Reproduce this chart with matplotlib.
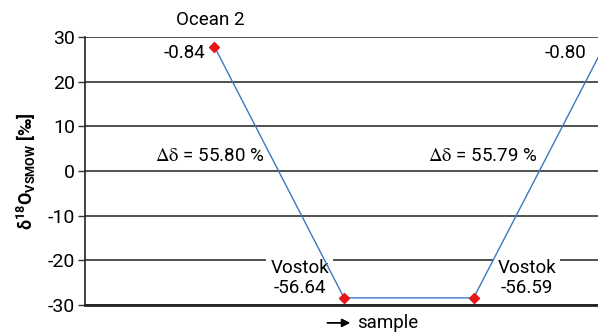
import matplotlib
matplotlib.use("Agg")
import matplotlib.pyplot as plt

plt.rcParams['font.family'] = ['Roboto', 'DejaVu Sans']
plt.rcParams['mathtext.fontset'] = 'custom'
plt.rcParams['mathtext.rm'] = 'Roboto'
plt.rcParams['mathtext.bf'] = 'Roboto:bold'

# data
sample_pos = [1, 2, 3, 4]
delta18o = [27.8, -28.4, -28.4, 27.6]
yticks = [-30, -20, -10, 0, 10, 20, 30]

fig = plt.figure(figsize=(5.98, 3.33), dpi=100)
ax = fig.add_axes([0.142, 0.084, 0.858, 0.805])

for t in yticks:
    ax.axhline(t, color='#333333', lw=1.2, zorder=1)

ax.plot(sample_pos, delta18o, color='#3f77c4', lw=1.0, zorder=3,
        marker='D', markersize=5, markerfacecolor='#e8161b', markeredgecolor='#e8161b')

ax.set_xlim(0, 3.96)
ax.set_ylim(-30, 30)
ax.set_yticks(yticks)
ax.set_yticklabels([str(t) for t in yticks], fontsize=14)
ax.set_xticks([])
ax.tick_params(axis='y', direction='out', length=5, width=1, color='#333333', pad=2)
for s in ['top', 'right']:
    ax.spines[s].set_visible(False)
ax.spines['left'].set_color('#222222')
ax.spines['bottom'].set_color('#222222')
ax.spines['bottom'].set_linewidth(2)
ax.spines['left'].set_linewidth(1.2)

ax.set_ylabel(r'$\mathbf{\delta^{18}O_{VSMOW}}$ [‰]', fontsize=13, fontweight='bold', labelpad=7)

# annotations
ax.text(0.965, 33.8, 'Ocean 2', ha='center', va='center', fontsize=13.5, clip_on=False)
ax.text(0.77, 26.4, '-0.84', ha='center', va='center', fontsize=13.5)
ax.text(3.71, 26.4, '-0.80', ha='center', va='center', fontsize=13.5)
for xp, lab in [(0.965, '55.80'), (3.07, '55.79')]:
    ax.text(xp, 3.4, r'$\mathrm{\Delta\delta}$ = ' + lab + ' %', ha='center', va='center',
            fontsize=13.5, math_fontfamily='stix')
for xp, lab in [(1.66, 'Vostok\n-56.64'), (3.41, 'Vostok\n-56.59')]:
    ax.text(xp, -24.0, lab, ha='center', va='center', fontsize=13.5, linespacing=1.15,
            bbox=dict(facecolor='white', edgecolor='none', pad=3), zorder=2)

ax.annotate('', xy=(2.07, -34.0), xytext=(1.85, -34.0), xycoords='data',
            arrowprops=dict(arrowstyle='-|>', color='black', lw=1.3, mutation_scale=12),
            annotation_clip=False)
ax.text(2.1, -34.0, 'sample', ha='left', va='center', fontsize=13.5, clip_on=False)

fig.savefig('out.png', dpi=100)
